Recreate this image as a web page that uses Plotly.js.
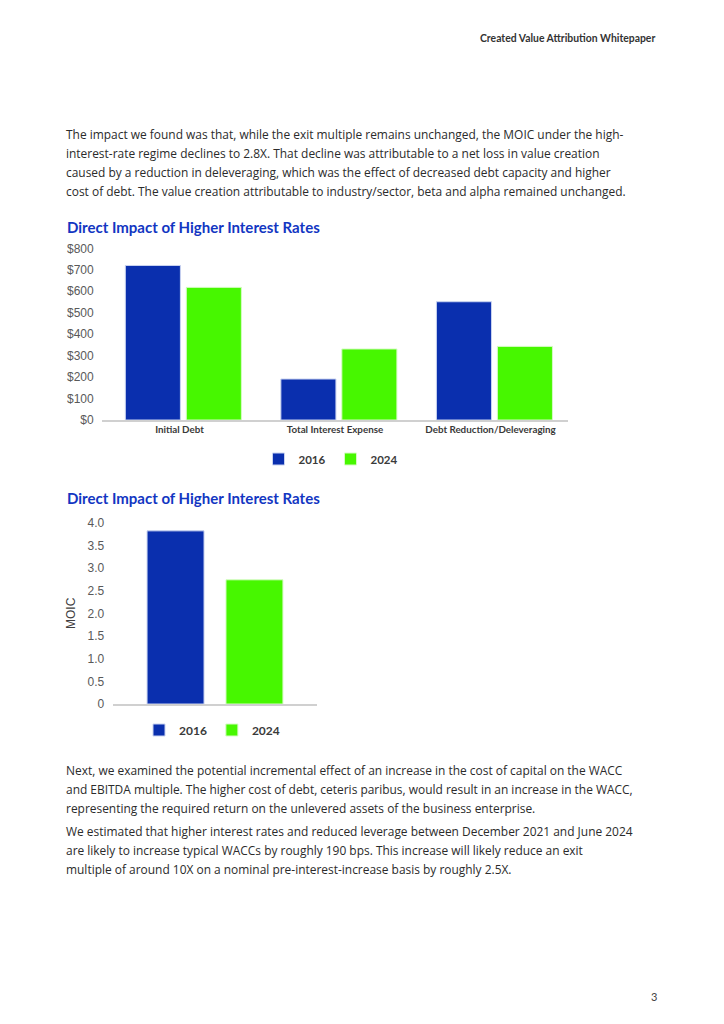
<!DOCTYPE html>
<html>
<head>
<meta charset="utf-8">
<script src="https://cdn.plot.ly/plotly-3.0.1.min.js"></script>
<style>
html,body{margin:0;padding:0;background:#fff;}
#page{width:724px;height:1024px;}
</style>
</head>
<body>
<div id="page"></div>
<script>
// ---- Data ----
const debtCategories = ["Initial Debt", "Total Interest Expense", "Debt Reduction/Deleveraging"];
const debt2016 = [720, 191, 551];
const debt2024 = [618, 331, 343];
const moicCategory = ["MOIC"];
const moic2016 = [3.82];
const moic2024 = [2.74];
const moicTickVals = [0, 0.5, 1, 1.5, 2, 2.5, 3, 3.5, 4];
const moicTickText = ["0", "0.5", "1.0", "1.5", "2.0", "2.5", "3.0", "3.5", "4.0"];
const seriesNames = ["2016", "2024"];
const chartTitle = "Direct Impact of Higher Interest Rates";
const headerText = "Created Value Attribution Whitepaper";
const para1 = [
  "The impact we found was that, while the exit multiple remains unchanged, the MOIC under the high-",
  "interest-rate regime declines to 2.8X. That decline was attributable to a net loss in value creation",
  "caused by a reduction in deleveraging, which was the effect of decreased debt capacity and higher",
  "cost of debt. The value creation attributable to industry/sector, beta and alpha remained unchanged."
];
const para2 = [
  "Next, we examined the potential incremental effect of an increase in the cost of capital on the WACC",
  "and EBITDA multiple. The higher cost of debt, ceteris paribus, would result in an increase in the WACC,",
  "representing the required return on the unlevered assets of the business enterprise."
];
const para3 = [
  "We estimated that higher interest rates and reduced leverage between December 2021 and June 2024",
  "are likely to increase typical WACCs by roughly 190 bps. This increase will likely reduce an exit",
  "multiple of around 10X on a nominal pre-interest-increase basis by roughly 2.5X."
];
const pageNumber = "3";

// ---- Style ----
const W = 724, H = 1024;
const BLUE = "#0a2fae", GREEN = "#47f700";
const TITLE_BLUE = "#1236c2";
const px = x => x / W;
const py = y => 1 - y / H;
const bodyFont = {family: "'Open Sans', Lato, sans-serif", size: 11.95, color: "#2b2b2b"};

const traces = [
  {type: "bar", x: debtCategories, y: debt2016, name: seriesNames[0], xaxis: "x", yaxis: "y",
   width: 0.354, offset: -0.348,
   marker: {color: BLUE, line: {color: "#c9d3f0", width: 1}}, legend: "legend", hoverinfo: "skip"},
  {type: "bar", x: debtCategories, y: debt2024, name: seriesNames[1], xaxis: "x", yaxis: "y",
   width: 0.354, offset: 0.044,
   marker: {color: GREEN, line: {color: "#d6fbc4", width: 1}}, legend: "legend", hoverinfo: "skip"},
  {type: "bar", x: moicCategory, y: moic2016, name: seriesNames[0], xaxis: "x2", yaxis: "y2",
   width: 0.28, offset: -0.334,
   marker: {color: BLUE, line: {color: "#c9d3f0", width: 1}}, legend: "legend2", hoverinfo: "skip"},
  {type: "bar", x: moicCategory, y: moic2024, name: seriesNames[1], xaxis: "x2", yaxis: "y2",
   width: 0.28, offset: 0.054,
   marker: {color: GREEN, line: {color: "#d6fbc4", width: 1}}, legend: "legend2", hoverinfo: "skip"}
];

const annotations = [];
function textLine(t, x, y, font, anchor) {
  annotations.push({text: t, xref: "paper", yref: "paper", x: px(x), y: py(y),
    xanchor: anchor || "left", yanchor: "middle", showarrow: false, font: font, align: "left"});
}
textLine(headerText, 657, 38, {family: "Lato, sans-serif", size: 10.4, color: "#333", weight: "bold"}, "right");
para1.forEach((t, i) => textLine(t, 64, 134 + i * 19, bodyFont));
para2.forEach((t, i) => textLine(t, 64, 770 + i * 19, bodyFont));
para3.forEach((t, i) => textLine(t, 64, 831 + i * 19, bodyFont));
textLine(chartTitle, 65, 227, {family: "Lato, sans-serif", size: 15, color: TITLE_BLUE, weight: "bold"});
textLine(chartTitle, 65, 498, {family: "Lato, sans-serif", size: 15, color: TITLE_BLUE, weight: "bold"});
textLine(pageNumber, 654, 996, {family: "Lato, sans-serif", size: 11, color: "#444"}, "center");

const tickFont = {family: "'Liberation Sans', Arial, sans-serif", size: 12, color: "#595959"};
const layout = {
  width: W, height: H,
  margin: {l: 0, r: 0, t: 0, b: 0},
  paper_bgcolor: "#fff", plot_bgcolor: "#fff",
  barmode: "group",
  showlegend: true,
  xaxis: {domain: [px(101.7), px(568.3)], anchor: "y", showgrid: false, zeroline: false,
    showline: true, linecolor: "#d0d0d0", linewidth: 1.5, ticks: "",
    tickfont: {family: "Lato, sans-serif", size: 9.8, color: "#3a3a3a", weight: "bold"}, fixedrange: true},
  yaxis: {domain: [py(420), py(248.3)], anchor: "x", range: [0, 800], dtick: 100, tickprefix: "$",
    showgrid: false, zeroline: false, showline: false, ticks: "", tickfont: tickFont, ticklabelstandoff: 7},
  xaxis2: {domain: [px(113.3), px(316.7)], anchor: "y2", showgrid: false, zeroline: false,
    showline: true, linecolor: "#d0d0d0", linewidth: 1.5, ticks: "", showticklabels: false},
  yaxis2: {domain: [py(704), py(522.7)], anchor: "x2", range: [0, 4], tickvals: moicTickVals, ticktext: moicTickText,
    showgrid: false, zeroline: false, showline: false, ticks: "", tickfont: tickFont, ticklabelstandoff: 8,
    title: {text: "MOIC", font: {family: "'Liberation Sans', Arial, sans-serif", size: 12, color: "#404040"}, standoff: 9}},
  legend: {orientation: "h", x: px(331), xanchor: "center", y: py(459), yanchor: "middle",
    font: {family: "Lato, sans-serif", size: 11.5, color: "#3a3a3a", weight: "bold"},
    itemwidth: 30, bgcolor: "rgba(0,0,0,0)", tracegroupgap: 0},
  legend2: {orientation: "h", x: px(212), xanchor: "center", y: py(730), yanchor: "middle",
    font: {family: "Lato, sans-serif", size: 12, color: "#3a3a3a", weight: "bold"},
    itemwidth: 30, bgcolor: "rgba(0,0,0,0)", tracegroupgap: 0},
  annotations: annotations
};

Plotly.newPlot("page", traces, layout, {staticPlot: true, displayModeBar: false});
</script>
</body>
</html>
